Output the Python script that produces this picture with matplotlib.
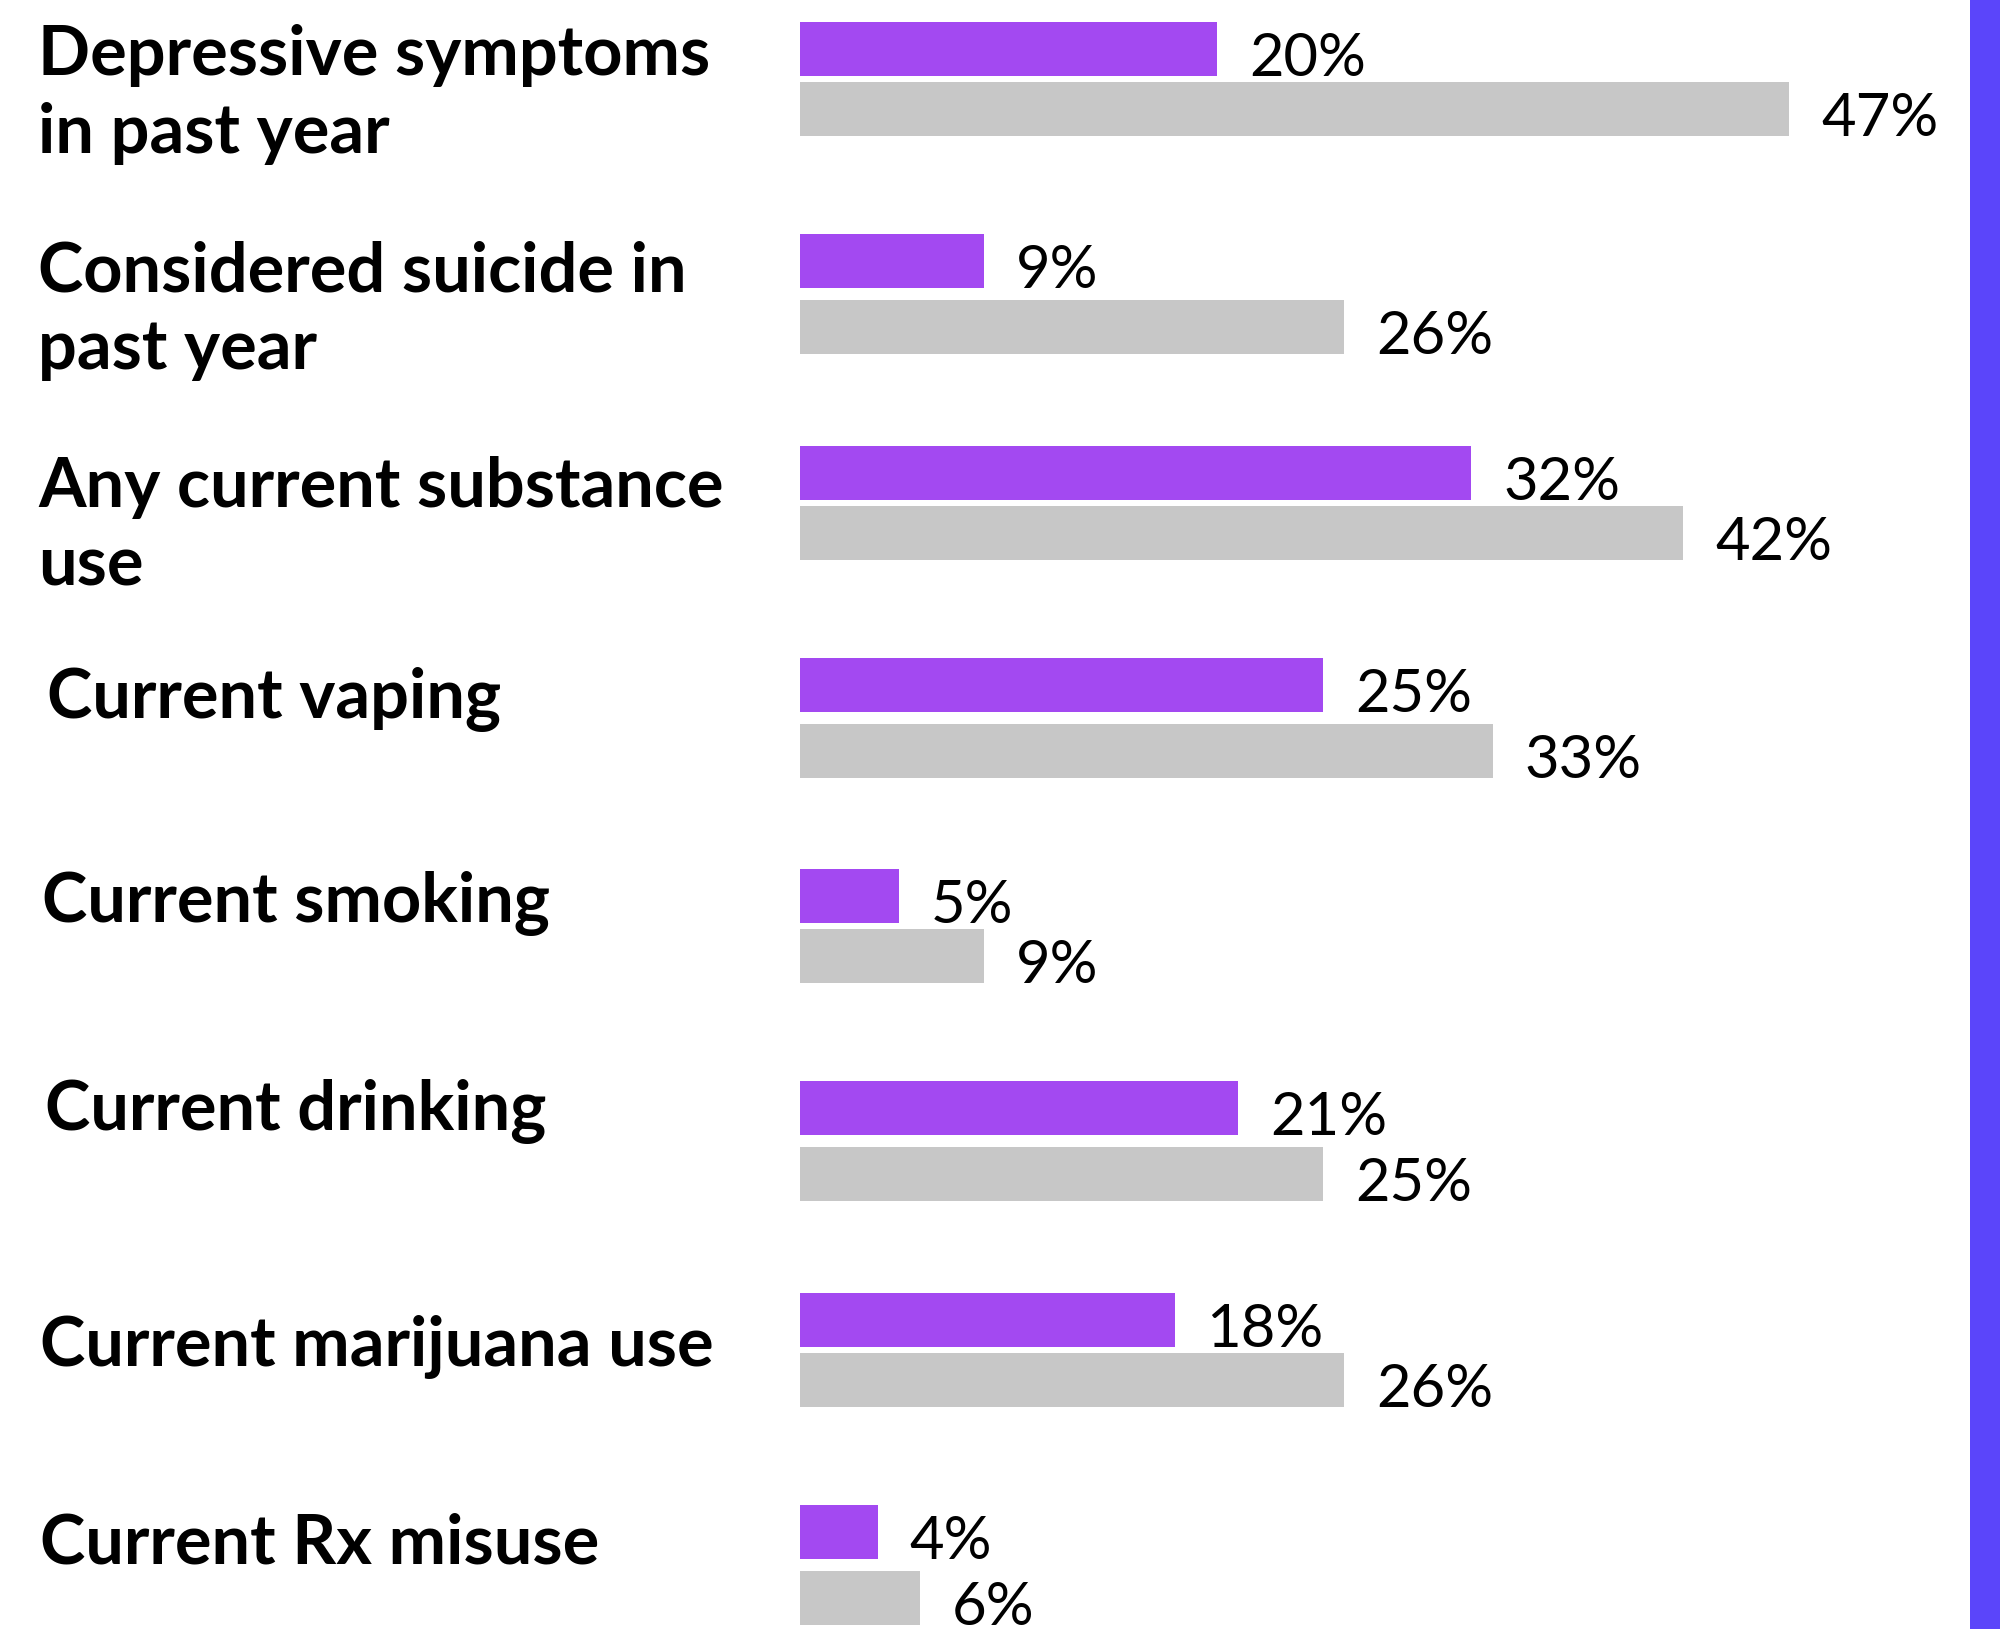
#!/usr/bin/env python3
# -*- coding: utf-8 -*-
"""
Paired horizontal bars: share of students reporting each outcome,
purple = first group, grey = comparison group.  Writes out.png.
"""
import numpy as np

import matplotlib
matplotlib.use("Agg")
import matplotlib.pyplot as plt
from matplotlib.patches import Rectangle
from matplotlib.transforms import blended_transform_factory

PURPLE = "#A349F1"
GREY = "#C7C7C7"
STRIP = "#5B45FA"

CATEGORIES = [
    "Depressive symptoms\nin past year",
    "Considered suicide in\npast year",
    "Any current substance\nuse",
    "Current vaping",
    "Current smoking",
    "Current drinking",
    "Current marijuana use",
    "Current Rx misuse",
]
PURPLE_VALS = [20, 9, 32, 25, 5, 21, 18, 4]
GREY_VALS = [47, 26, 42, 33, 9, 25, 26, 6]

# layout in figure pixels -- hand tuned against the reference
W, H = 2000, 1629
PITCH = 211.86          # group to group
TOP = 49                # centre of first purple bar
BAR_H = 54
GAPS = [6, 12, 6, 12, 6, 12, 6, 12]   # white gap between purple and grey
PX_PER_PCT = 21.2
X0_PAD = 7              # bars' zero sits a little left of the visible edge
LABEL_X = [38, 38, 38, 47, 42, 45, 40, 40]
LABEL_BASE = [75, 291, 507, 718, 922, 1130, 1366, 1563]  # first baseline
LINE_GAP = 78


def main():
    fig = plt.figure(figsize=(W / 100, H / 100), dpi=100)
    fig.patch.set_facecolor("white")
    ax = fig.add_axes([800 / W, 0, 1170 / W, 1])
    ax.set_axis_off()

    idx = np.arange(len(CATEGORIES))
    y_p = TOP + idx * PITCH
    y_g = y_p + BAR_H + np.array(GAPS)
    ax.barh(y_p, PURPLE_VALS, height=BAR_H, color=PURPLE, lw=0)
    ax.barh(y_g, GREY_VALS, height=BAR_H, color=GREY, lw=0)
    lo = X0_PAD / PX_PER_PCT
    ax.set_xlim(lo, lo + 1170 / PX_PER_PCT)
    ax.set_ylim(H, 0)

    for yp, yg, pv, gv in zip(y_p, y_g, PURPLE_VALS, GREY_VALS):
        ax.text(pv + 1.5, yp + BAR_H / 2, f"{pv}%", va="baseline",
                ha="left", fontsize=43, family="Lato", color="black")
        ax.text(gv + 1.5, yg + BAR_H / 2, f"{gv}%", va="baseline",
                ha="left", fontsize=43, family="Lato", color="black")

    tr = blended_transform_factory(fig.transFigure, ax.transData)
    for lab, lx, yb in zip(CATEGORIES, LABEL_X, LABEL_BASE):
        for k, line in enumerate(lab.split("\n")):
            ax.text(lx / W, yb + k * LINE_GAP, line, transform=tr,
                    va="baseline", ha="left", fontsize=49.3, family="Lato",
                    fontweight="bold", color="black")

    fig.add_artist(Rectangle((1970 / W, 0), 30 / W, 1, transform=fig.transFigure,
                             facecolor=STRIP, edgecolor="none"))

    fig.savefig("out.png", dpi=100, facecolor="white")
    plt.close(fig)


if __name__ == "__main__":
    main()
